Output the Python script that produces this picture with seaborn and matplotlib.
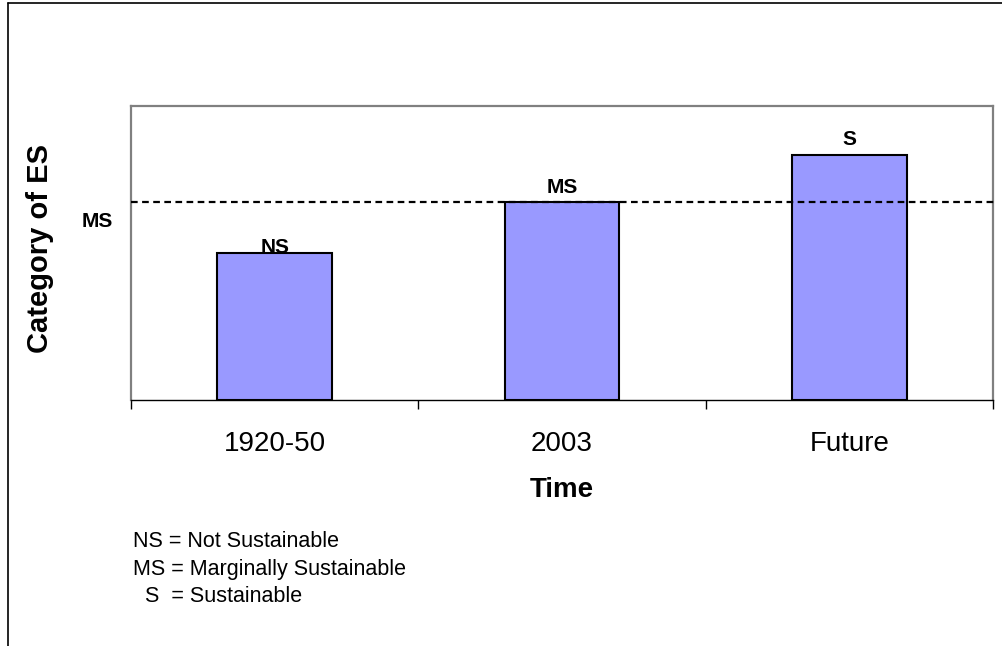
import matplotlib
matplotlib.use("Agg")
import matplotlib.pyplot as plt
from matplotlib.lines import Line2D
import seaborn as sns
import pandas as pd

# Data
periods = ["1920-50", "2003", "Future"]
es_level = [3, 4.05, 5]
es_codes = ["NS", "MS", "S"]
ms_threshold = 4.05
ms_label = "MS"
notes = ["NS = Not Sustainable", "MS = Marginally Sustainable", "  S  = Sustainable"]

sns.set_style("white")
plt.rcParams["font.family"] = ["Liberation Sans", "DejaVu Sans"]
plt.rcParams["text.color"] = "black"
plt.rcParams["axes.labelcolor"] = "black"
plt.rcParams["xtick.color"] = "black"
plt.rcParams["ytick.color"] = "black"

df = pd.DataFrame({"Time": periods, "Level": es_level})

W, H = 1002, 646
fig = plt.figure(figsize=(W / 100, H / 100), dpi=100)
ax = fig.add_axes([131 / W, 1 - 400 / H, (993 - 131) / W, (400 - 106) / H])

sns.barplot(data=df, x="Time", y="Level", color="#9999FF", saturation=1,
            edgecolor="black", linewidth=1.5, width=0.4, ax=ax)

ax.set_xlim(-0.5, len(periods) - 0.5)
ax.set_ylim(0, 6)

# Bar value labels, each nudged above its bar
label_offsets = [0, 6.5, 7]
for patch, code, off in zip(ax.containers[0], es_codes, label_offsets):
    ax.annotate(code, xy=(patch.get_x() + patch.get_width() / 2, patch.get_height()),
                xytext=(0, off), textcoords="offset points", ha="center", va="baseline",
                fontsize=15, fontweight="bold", zorder=4)

# Marginal sustainability threshold
ax.axhline(ms_threshold, xmin=0, xmax=1.005, color="black", lw=1.6,
           linestyle=(0, (3, 2)), clip_on=False, zorder=3)
ax.annotate(ms_label, xy=(0, ms_threshold), xycoords=("axes fraction", "data"),
            xytext=(-13, -18.5), textcoords="offset points", ha="right", va="baseline",
            fontsize=15, fontweight="bold")

# Axes styling
ax.set_yticks([])
ax.set_xticks(range(len(periods)))
ax.set_xticklabels(periods, fontsize=20)
ax.set_xticks([i - 0.5 for i in range(len(periods) + 1)], minor=True)
ax.tick_params(axis="x", which="major", length=0, pad=22)
ax.tick_params(axis="x", which="minor", length=6.5, width=1, color="black", bottom=True)
for side in ["left", "top", "right"]:
    ax.spines[side].set_color("#808080")
    ax.spines[side].set_linewidth(1.6)
ax.spines["bottom"].set_color("black")
ax.spines["bottom"].set_linewidth(1.0)

ax.set_xlabel("Time", fontsize=20, fontweight="bold")
ax.xaxis.set_label_coords(0.5, -(497 - 400) / 294)
ax.xaxis.label.set_va("baseline")
ax.set_ylabel("Category of ES", fontsize=21, fontweight="bold")
ax.yaxis.set_label_coords(-(131 - 40) / 862, (400 - 248) / 294)
ax.yaxis.label.set_va("center")

# Key to the category codes
for i, t in enumerate(notes):
    fig.text(133 / W, 1 - (547 + 27.5 * i) / H, t, fontsize=15.5,
             ha="left", va="baseline")

# Outer frame
fig.add_artist(Line2D([8 / W, 8 / W], [0, 1 - 3 / H], color="black", lw=1.2))
fig.add_artist(Line2D([8 / W, 1], [1 - 3 / H, 1 - 3 / H], color="black", lw=1.2))

fig.savefig("out.png", dpi=100, facecolor="white")
